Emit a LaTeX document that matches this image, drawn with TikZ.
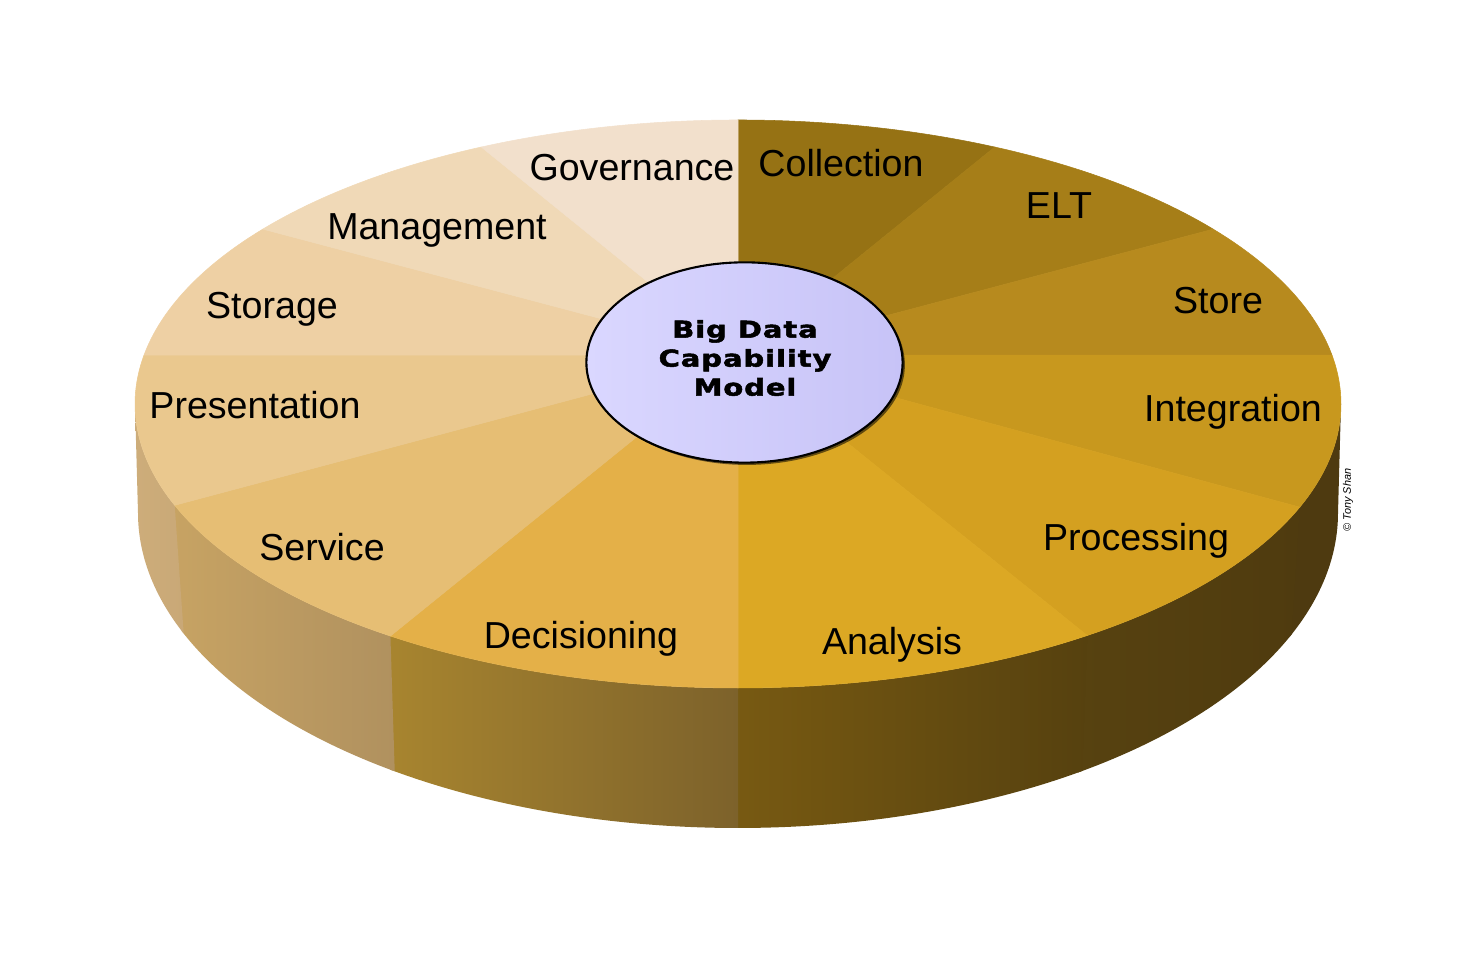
\documentclass[tikz,border=0pt]{standalone}
\usepackage{fontspec}
\setmainfont{Liberation Sans}
\newfontfamily\hubfont[FakeStretch=1.25,LetterSpace=4,FakeBold=2.2]{DejaVu Sans}
\usetikzlibrary{shapes.geometric,shadows}
\definecolor{collection}{HTML}{967214}
\definecolor{elt}{HTML}{A67E18}
\definecolor{store}{HTML}{B78A1E}
\definecolor{integration}{HTML}{C8981E}
\definecolor{processing}{HTML}{D4A020}
\definecolor{analysis}{HTML}{DCA824}
\definecolor{decisioning}{HTML}{E4B048}
\definecolor{service}{HTML}{E6BE74}
\definecolor{presentation}{HTML}{EAC88E}
\definecolor{storage}{HTML}{EED0A4}
\definecolor{management}{HTML}{F0D9B7}
\definecolor{governance}{HTML}{F2E0CC}
\definecolor{hubleft}{HTML}{DAD7FF}
\definecolor{hubright}{HTML}{C7C3F7}
\definecolor{sideint}{HTML}{4E3A10}
\definecolor{sideprocl}{HTML}{574210}
\definecolor{sideprocr}{HTML}{4F3B0F}
\definecolor{sideanal}{HTML}{785A12}
\definecolor{sideanar}{HTML}{56410F}
\definecolor{sidedecl}{HTML}{A8852F}
\definecolor{sidedecr}{HTML}{7D622B}
\definecolor{sidesvcl}{HTML}{C7A363}
\definecolor{sidesvcr}{HTML}{B0915F}
\definecolor{sidepresl}{HTML}{CDAD7A}
\definecolor{sidepresr}{HTML}{C9A877}

\begin{document}
\begin{tikzpicture}[x=0.02cm,y=0.02cm,
    slice/.style={fill=#1,draw=#1,line width=0.3pt},
    toprim/.style={x radius=603,y radius=284},
    botrim/.style={x radius=600,y radius=315},
    lbl/.style={anchor=base,inner sep=0pt,font=\fontsize{21.4}{25}\selectfont}]
\useasboundingbox (0,0) rectangle (1475,962);

\coordinate (T) at (738,558);
\coordinate (B) at (738,449);
\coordinate (H) at (738,607);

% points on the top rim
\path (T) ++(90:603 and 284) coordinate (t0);
\path (T) ++(64.8:603 and 284) coordinate (t1);
\path (T) ++(38:603 and 284) coordinate (t2);
\path (T) ++(9.9:603 and 284) coordinate (t3);
\path (T) ++(-21.3:603 and 284) coordinate (t4);
\path (T) ++(-54.6:603 and 284) coordinate (t5);
\path (T) ++(-90:603 and 284) coordinate (t6);
\path (T) ++(-125.2:603 and 284) coordinate (t7);
\path (T) ++(-159.1:603 and 284) coordinate (t8);
\path (T) ++(170.1:603 and 284) coordinate (t9);
\path (T) ++(142:603 and 284) coordinate (t10);
\path (T) ++(115.2:603 and 284) coordinate (t11);
\path (T) ++(0:603 and 284) coordinate (tr);
% points on the bottom rim
\path (B) ++(-23.2:600 and 315) coordinate (b4);
\path (B) ++(-55.5:600 and 315) coordinate (b5);
\path (B) ++(-90.5:600 and 315) coordinate (b6);
\path (B) ++(-125.4:600 and 315) coordinate (b7);
\path (B) ++(-158:600 and 315) coordinate (b8);
\path (B) ++(180:600 and 315) coordinate (bl);

% side, right to left, each piece a little wider so no seam shows
\fill[sideint]
  (tr) arc[toprim,start angle=0,end angle=-21.8] -- (b4) arc[botrim,start angle=-23.2,end angle=0] -- cycle;
\shade[left color=sideprocl,right color=sideprocr]
  (t4) arc[toprim,start angle=-21.3,end angle=-55.1] -- (b5) arc[botrim,start angle=-55.5,end angle=-22.7] -- cycle;
\shade[left color=sideanal,right color=sideanar]
  (t5) arc[toprim,start angle=-54.6,end angle=-90.5] -- (b6) arc[botrim,start angle=-90.5,end angle=-55] -- cycle;
\shade[left color=sidedecl,right color=sidedecr]
  (t6) arc[toprim,start angle=-90,end angle=-125.7] -- (b7) arc[botrim,start angle=-125.4,end angle=-90] -- cycle;
\shade[left color=sidesvcl,right color=sidesvcr]
  (t7) arc[toprim,start angle=-125.2,end angle=-159.6] -- (b8) arc[botrim,start angle=-158,end angle=-124.9] -- cycle;
\shade[left color=sidepresl,right color=sidepresr]
  (t8) arc[toprim,start angle=-159.1,end angle=-180] -- (bl) arc[botrim,start angle=180,end angle=202.5] -- cycle;

% top
\filldraw[slice=collection] (H) -- (t0) arc[toprim,start angle=90,end angle=64.8] -- cycle;
\filldraw[slice=elt] (H) -- (t1) arc[toprim,start angle=64.8,end angle=38] -- cycle;
\filldraw[slice=store] (H) -- (t2) arc[toprim,start angle=38,end angle=9.9] -- cycle;
\filldraw[slice=integration] (H) -- (t3) arc[toprim,start angle=9.9,end angle=-21.3] -- cycle;
\filldraw[slice=processing] (H) -- (t4) arc[toprim,start angle=-21.3,end angle=-54.6] -- cycle;
\filldraw[slice=analysis] (H) -- (t5) arc[toprim,start angle=-54.6,end angle=-90] -- cycle;
\filldraw[slice=decisioning] (H) -- (t6) arc[toprim,start angle=-90,end angle=-125.2] -- cycle;
\filldraw[slice=service] (H) -- (t7) arc[toprim,start angle=-125.2,end angle=-159.1] -- cycle;
\filldraw[slice=presentation] (H) -- (t8) arc[toprim,start angle=200.9,end angle=170.1] -- cycle;
\filldraw[slice=storage] (H) -- (t9) arc[toprim,start angle=170.1,end angle=142] -- cycle;
\filldraw[slice=management] (H) -- (t10) arc[toprim,start angle=142,end angle=115.2] -- cycle;
\filldraw[slice=governance] (H) -- (t11) arc[toprim,start angle=115.2,end angle=90] -- cycle;

\node[lbl] (collection) at (841,785) {Collection};
\node[lbl] (elt) at (1059,743) {ELT};
\node[lbl] (store) at (1218,648) {Store};
\node[lbl] (integration) at (1233,540) {Integration};
\node[lbl] (processing) at (1136,411) {Processing};
\node[lbl] (analysis) at (892,307) {Analysis};
\node[lbl] (decisioning) at (581,313) {Decisioning};
\node[lbl] (service) at (322,401) {Service};
\node[lbl] (presentation) at (255,543) {Presentation};
\node[lbl] (storage) at (272,643) {Storage};
\node[lbl] (management) at (437,722) {Management};
\node[lbl] (governance) at (632,781) {Governance};

\node[ellipse,draw=black,line width=1.2pt,minimum width=180pt,minimum height=114pt,inner sep=0pt,
  left color=hubleft,right color=hubright,
  drop shadow={shadow xshift=1.3pt,shadow yshift=-1.3pt,opacity=0.55,fill=black}] (hub) at (744.5,599.5) {};
\node[align=center,inner sep=0pt,font=\hubfont\bfseries\fontsize{13.2}{16.5}\selectfont] (hubtext) at (745,604) {Big Data\\Capability\\Model};

\node[rotate=90,inner sep=0pt,font=\fontsize{6.2}{7}\selectfont\itshape] (copy) at (1348,462) {© Tony Shan};
\end{tikzpicture}
\end{document}
